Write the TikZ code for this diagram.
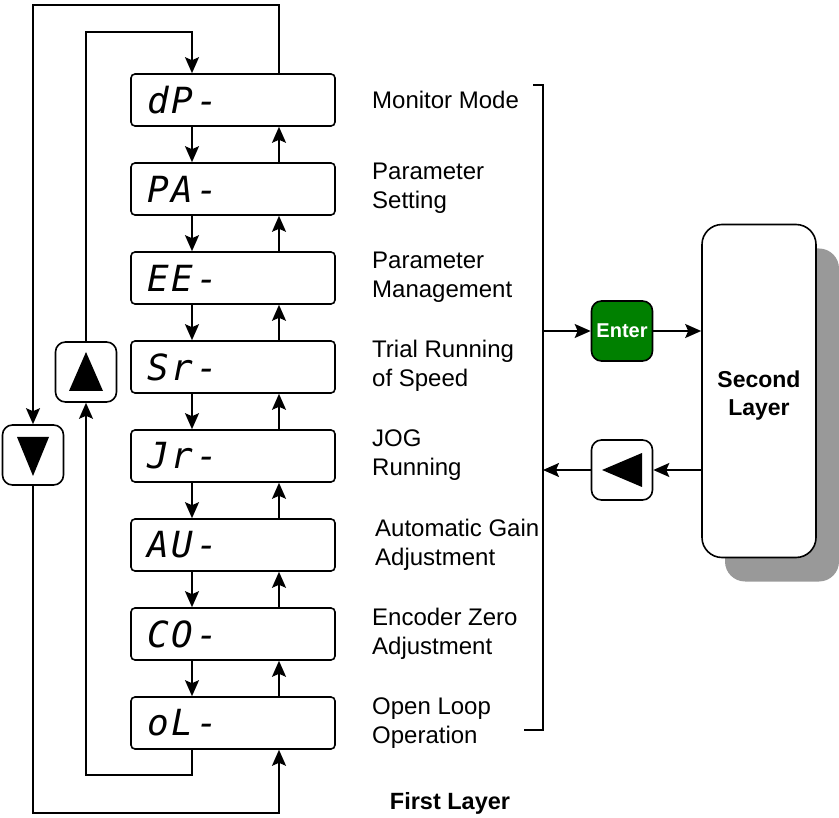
\documentclass[tikz,border=0pt]{standalone}
\usepackage{fontspec}
\setmainfont{Liberation Sans}
\newfontfamily\segfont{DejaVu Sans Mono}[LetterSpace=8]
\usetikzlibrary{arrows.meta,shadows}

\definecolor{entergreen}{RGB}{0,128,0}
\definecolor{shadowgray}{RGB}{153,153,153}

\begin{document}
\begin{tikzpicture}[x=1pt, y=-1pt,
		arr/.style={-{Stealth[length=16pt,width=14pt,inset=3pt]}, line width=1.6pt},
		display/.style={draw, line width=1.6pt, rounded corners=4pt, minimum height=52pt,
			text width=172pt, inner xsep=16pt, align=left,
			font=\segfont\itshape\fontsize{36}{36}\selectfont},
		modetext/.style={anchor=west, inner sep=0pt, align=left,
			font=\fontsize{24}{29}\selectfont},
		button/.style={draw, line width=1.6pt, rounded corners=10pt,
			minimum width=61pt, minimum height=60pt, inner sep=0pt}
		]
		
		% Parameters
		\useasboundingbox (0,0) rectangle (839,818);
		\coordinate (dnx) at (192,0);
		\coordinate (upx) at (279,0);
		\coordinate (brk) at (543,0);
		
		% Draw the display boxes
		\node[display] (d1) at (233,100) {dP-};
		\node[display] (d2) at (233,189) {PA-};
		\node[display] (d3) at (233,278) {EE-};
		\node[display] (d4) at (233,367) {Sr-};
		\node[display] (d5) at (233,456) {Jr-};
		\node[display] (d6) at (233,545) {AU-};
		\node[display] (d7) at (233,634) {CO-};
		\node[display] (d8) at (233,723) {oL-};
		
		% Mode names
		\node[modetext] (m1) at (372,100) {Monitor Mode};
		\node[modetext] (m2) at (372,188) {Parameter\\Setting};
		\node[modetext] (m3) at (372,277) {Parameter\\Management};
		\node[modetext] (m4) at (372,366) {Trial Running\\of Speed};
		\node[modetext] (m5) at (372,455) {JOG\\Running};
		\node[modetext] (m6) at (375,545) {Automatic Gain\\Adjustment};
		\node[modetext] (m7) at (372,634) {Encoder Zero\\Adjustment};
		\node[modetext] (m8) at (372,723) {Open Loop\\Operation};
		
		% Arrows between the displays
		\foreach \a/\b in {d1/d2,d2/d3,d3/d4,d4/d5,d5/d6,d6/d7,d7/d8} {
			\draw[arr] (\a.south -| dnx) -- (\b.north -| dnx);
			\draw[arr] (\b.north -| upx) -- (\a.south -| upx);
		}
		
		% Up and down keys
		\node[button] (up) at (86,372) {};
		\fill (up.center) ++(0,-20) -- ++(17,39) -- ++(-34,0) -- cycle;
		\node[button] (dn) at (33,455) {};
		\fill (dn.center) ++(0,21) -- ++(16,-39) -- ++(-32,0) -- cycle;
		
		% Outer loop
		\draw[arr] (d1.north -| upx) -- (279,5) -- (33,5) -- (dn.north);
		\draw[arr] (dn.south) -- (33,813) -- (279,813) -- (d8.south -| upx);
		
		% Inner loop
		\draw[arr] (up.north) -- (86,32) -- (192,32) -- (d1.north -| dnx);
		\draw[arr] (d8.south -| dnx) -- (192,775) -- (86,775) -- (up.south);
		
		% Bracket
		\draw[line width=1.6pt] (533,85) -- (543,85) -- (543,730) -- (524,730);
		
		% Second layer
		\node[draw, line width=1.6pt, fill=white, rounded corners=20pt,
			minimum width=114pt, minimum height=333pt,
			drop shadow={shadow xshift=23pt, shadow yshift=-24pt, fill=shadowgray, opacity=1}]
			(second) at (759,391) {};
		\node[align=center, font=\bfseries\fontsize{23}{28}\selectfont]
			(secondtext) at (759,396) {Second\\Layer};
		
		% Enter and back keys
		\node[button, fill=entergreen, text=white, font=\bfseries\fontsize{20}{20}\selectfont]
			(enter) at (622,331) {Enter};
		\node[button] (back) at (622,470) {};
		\fill (back.center) ++(-20,0) -- ++(40,-17) -- ++(0,34) -- cycle;
		
		\draw[arr] (enter.west -| brk) -- (enter.west);
		\draw[arr] (enter.east) -- (enter.east -| second.west);
		\draw[arr] (back.east -| second.west) -- (back.east);
		\draw[arr] (back.west) -- (back.west -| brk);
		
		% Layer name
		\node[font=\bfseries\fontsize{23.5}{28}\selectfont] (first) at (450,803) {First Layer};
		
	\end{tikzpicture}
\end{document}
